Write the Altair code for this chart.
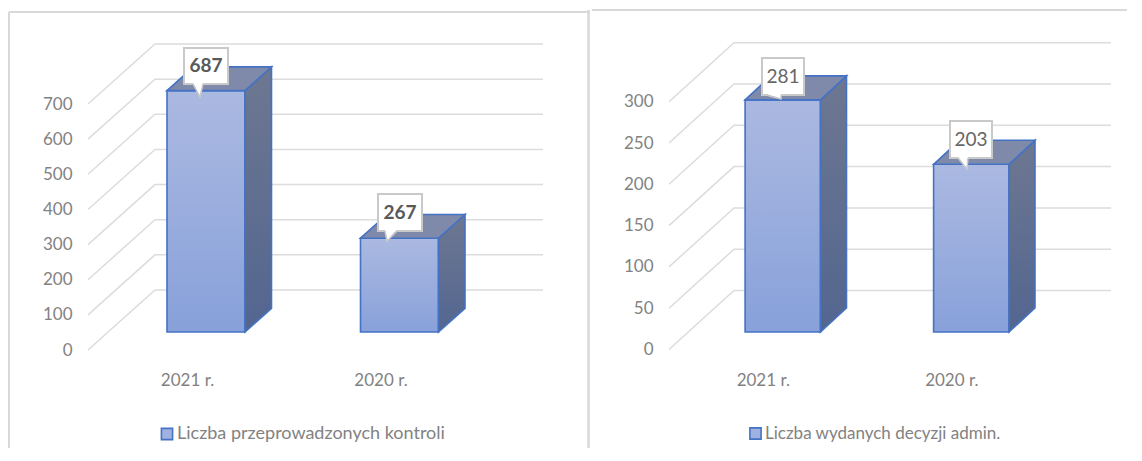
import altair as alt
import pandas as pd

categories = ["2021 r.", "2020 r."]
kontrole_values = [687, 267]
decyzje_values = [281, 203]
kontrole_ticks = [0, 100, 200, 300, 400, 500, 600, 700]
decyzje_ticks = [0, 50, 100, 150, 200, 250, 300]
kontrole_title = "Liczba przeprowadzonych kontroli"
decyzje_title = "Liczba wydanych decyzji admin."

FONT = "Lato"
TEXT = "#828282"
GRID = "#dcdcdc"
FRAME = "#d9d9d9"
EDGE = "#4472c4"
H = 440

LEFT = dict(
    x0=8, w=582, frame_top=12, c0=206, step=193.5, half=39, dx=26.5, dy=23.7, base=18,
    ppu=0.3514, y0=350, wall_x=88, wall_dx=67, wall_dy=60, wall_right=543,
    label_x_shift=19, ax_off=-64, xlab_off=-76, legend_x=150, legend_y=417, legend_font=18, bold=True,
    divider_top=11,
    boxes=[(184, 228, 48, 84, 193, 203, 200, 97), (378, 422, 194, 231, 385, 397, 387, 241)],
)
RIGHT = dict(
    x0=590, w=536, frame_top=10, c0=781.8, step=188.5, half=37.7, dx=26, dy=24, base=17.5,
    ppu=0.826, y0=349.5, wall_x=668, wall_dx=65, wall_dy=59, wall_right=1110,
    label_x_shift=20, ax_off=-62, xlab_off=-76, legend_x=156, legend_y=417, legend_font=17, bold=False,
    divider_top=None,
    boxes=[(761, 803, 58, 95, 765, 780, 780, 99), (949, 991, 121, 158, 957, 967, 966, 169)],
)


def grad(top, bottom):
    return {
        "gradient": "linear", "x1": 0, "x2": 0, "y1": 0, "y2": 1,
        "stops": [{"offset": 0, "color": top}, {"offset": 1, "color": bottom}],
    }


def panel(values, ticks, title, g):
    X = lambda px: (px - g["c0"]) / g["step"]
    Y = lambda px: (g["y0"] - px) / g["ppu"]
    xs = alt.Scale(domain=[X(g["x0"]), X(g["x0"] + g["w"])], nice=False, zero=False)
    ys = alt.Scale(domain=[Y(8 + H), Y(8)], nice=False, zero=False)
    label_pos = [i - g["label_x_shift"] / g["step"] for i in range(len(categories))]
    label_expr = "datum.index < 0.5 ? '%s' : '%s'" % (categories[0], categories[1])
    ex = alt.X("x:Q", scale=xs, title=None, axis=alt.Axis(
        values=label_pos, labelExpr=label_expr, title=None, grid=False, domain=False, ticks=False,
        offset=g["xlab_off"], labelPadding=0, labelFontSize=17, labelColor=TEXT, labelFont=FONT))
    ey = alt.Y("y:Q", scale=ys, title=None, axis=alt.Axis(
        values=ticks, title=None, grid=False, domain=False, ticks=False, offset=g["ax_off"],
        labelPadding=0, labelFontSize=17, labelColor=TEXT, labelFont=FONT, format="d"))
    base = g["base"] / g["ppu"]
    dv = g["dy"] / g["ppu"]
    dvw = g["wall_dy"] / g["ppu"]
    half = g["half"] / g["step"]
    d = g["dx"] / g["step"]

    wall = []
    for t in ticks:
        wall += [
            dict(k=f"d{t}", x=X(g["wall_x"]), y=t),
            dict(k=f"d{t}", x=X(g["wall_x"] + g["wall_dx"]), y=t + dvw),
            dict(k=f"d{t}", x=X(g["wall_right"]), y=t + dvw),
        ]
    walls = alt.Chart(pd.DataFrame(wall)).mark_line(color=GRID, strokeWidth=1.5).encode(
        x=ex, y=ey, detail="k:N")

    front, side, top = [], [], []
    for i, v in enumerate(values):
        xl, xr = i - half, i + half
        front.append(dict(x=xl, x2=xr, y=base, y2=base + v, s=title))
        side += [
            dict(b=i, x=xr, y=base + v, y2=base),
            dict(b=i, x=xr + d, y=base + v + dv, y2=base + dv),
        ]
        top += [
            dict(b=i, x=xl, y=base + v, y2=base + v),
            dict(b=i, x=xl + d, y=base + v + dv, y2=base + v),
            dict(b=i, x=xr, y=base + v + dv, y2=base + v),
            dict(b=i, x=xr + d, y=base + v + dv, y2=base + v + dv),
        ]
    fdf = pd.DataFrame(front)
    legend_base = alt.Chart(fdf).mark_rect().encode(
        x=ex, x2="x2:Q", y=ey, y2="y2:Q",
        color=alt.Color("s:N", scale=alt.Scale(domain=[title], range=["#9fb1df"]), legend=alt.Legend(
            orient="none", legendX=g["legend_x"], legendY=g["legend_y"], title=None, padding=0,
            symbolType="square", symbolSize=125, symbolStrokeColor=EDGE, symbolStrokeWidth=1.6,
            labelFont=FONT, labelFontSize=g["legend_font"], labelColor=TEXT, labelOffset=1, labelLimit=400)),
    )
    faces = alt.Chart(fdf).mark_rect(fill=grad("#abb9e1", "#88a1da"), stroke=EDGE, strokeWidth=1.6).encode(
        x=ex, x2="x2:Q", y=ey, y2="y2:Q")
    sides = alt.Chart(pd.DataFrame(side)).mark_area(
        fill=grad("#6d7791", "#536690"), stroke=EDGE, strokeWidth=1.6).encode(
        x=ex, y=ey, y2="y2:Q", detail="b:N")
    tops = alt.Chart(pd.DataFrame(top)).mark_area(
        fill="#7f8aab", stroke=EDGE, strokeWidth=1.6).encode(
        x=ex, y=ey, y2="y2:Q", detail="b:N")

    rect, tri, edge, txt = [], [], [], []
    for i, (bx0, bx1, by0, by1, tl, tr, tx, ty) in enumerate(g["boxes"]):
        rect.append(dict(x=X(bx0), x2=X(bx1), y=Y(by0), y2=Y(by1)))
        tri += [
            dict(b=i, x=X(tl), y=Y(by1 - 1.5), y2=Y(by1 - 1.5)),
            dict(b=i, x=X(tx), y=Y(by1 - 1.5), y2=Y(ty)),
            dict(b=i, x=X(tr), y=Y(by1 - 1.5), y2=Y(by1 - 1.5)),
        ]
        edge += [
            dict(b=i, x=X(tl), y=Y(by1)),
            dict(b=i, x=X(tx), y=Y(ty)),
            dict(b=i, x=X(tr), y=Y(by1)),
        ]
        txt.append(dict(x=X((bx0 + bx1) / 2), y=Y((by0 + by1) / 2), t=str(values[i])))
    boxes = alt.Chart(pd.DataFrame(rect)).mark_rect(fill="white", stroke="#c9c9c9", strokeWidth=2).encode(
        x=ex, x2="x2:Q", y=ey, y2="y2:Q")
    tris = alt.Chart(pd.DataFrame(tri)).mark_area(fill="white").encode(x=ex, y=ey, y2="y2:Q", detail="b:N")
    edges = alt.Chart(pd.DataFrame(edge)).mark_line(color="#c9c9c9", strokeWidth=1.5).encode(
        x=ex, y=ey, detail="b:N")
    labels = alt.Chart(pd.DataFrame(txt)).mark_text(
        font=FONT, fontSize=19, fontWeight="bold" if g["bold"] else "normal",
        color="#595959" if g["bold"] else "#666666", align="center", baseline="middle").encode(
        x=ex, y=ey, text="t:N")

    one = pd.DataFrame({"a": [0]})
    frame_layers = [
        alt.Chart(one).mark_rule(color=FRAME, strokeWidth=2).encode(
            x=alt.value(1), x2=alt.value(g["w"]), y=alt.value(g["frame_top"] - 8))
    ]
    if g["divider_top"] is not None:
        frame_layers += [
            alt.Chart(one).mark_rule(color=FRAME, strokeWidth=2).encode(
                x=alt.value(1), y=alt.value(g["frame_top"] - 8), y2=alt.value(H)),
            alt.Chart(one).mark_rule(color=FRAME, strokeWidth=2.5).encode(
                x=alt.value(g["w"] - 1.5), y=alt.value(g["divider_top"] - 9), y2=alt.value(H)),
        ]

    return alt.layer(
        *frame_layers, walls, legend_base, faces, sides, tops, boxes, tris, edges, labels
    ).properties(width=g["w"], height=H)


chart = alt.hconcat(
    panel(kontrole_values, kontrole_ticks, kontrole_title, LEFT),
    panel(decyzje_values, decyzje_ticks, decyzje_title, RIGHT),
    spacing=0,
).properties(padding=0, background="white").configure_view(stroke=None).resolve_scale(color="independent")

chart.save("out.html", embed_options={"renderer": "svg", "actions": False})
